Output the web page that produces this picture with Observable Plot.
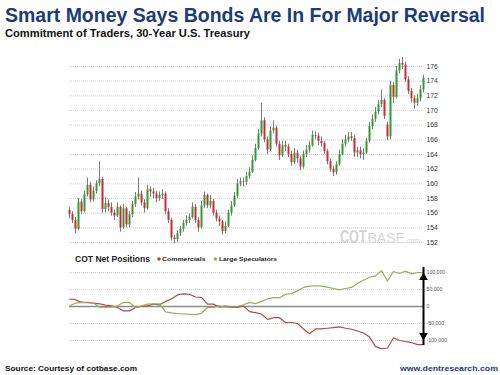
<!DOCTYPE html>
<html><head><meta charset="utf-8">
<script src="https://cdn.jsdelivr.net/npm/d3@7"></script>
<script src="https://cdn.jsdelivr.net/npm/@observablehq/plot@0.6"></script>
<style>
html,body{margin:0;padding:0;background:#fff;}
#root{position:relative;width:500px;height:375px;overflow:hidden;font-family:"Liberation Sans",Arial,sans-serif;}
#price{position:absolute;left:0;top:50px;}
#cot{position:absolute;left:0;top:255px;}
#overlay{position:absolute;left:0;top:0;pointer-events:none;}
</style></head>
<body><div id="root"><div id="price"></div><div id="cot"></div></div>
<script>
// ---- texts ----
const titleText = "Smart Money Says Bonds Are In For Major Reversal";
const subtitleText = "Commitment of Traders, 30-Year U.S. Treasury";
const sourceText = "Source: Courtesy of cotbase.com";
const siteText = "www.dentresearch.com";
const cotTitle = "COT Net Positions";
const seriesNames = ["Commercials", "Large Speculators"];
const watermark = ["COT", "BASE", ".com"];

// ---- price candles (weekly, 30-Year U.S. Treasury futures) ----
const open = [156.4,155.8,155.0,153.8,157.5,156.2,158.5,159.8,157.8,159.0,
160.0,160.6,156.5,157.3,156.8,156.0,155.6,156.8,154.0,156.6,
154.4,155.8,157.2,158.2,158.6,157.4,156.6,159.2,158.9,158.6,
158.0,158.4,158.6,156.2,155.0,152.6,152.4,153.2,153.8,154.6,
155.0,155.4,156.8,155.0,154.0,157.0,158.4,157.0,157.6,156.0,
155.2,154.8,153.5,154.2,156.0,157.0,158.3,160.0,160.3,160.2,
161.0,161.6,163.2,164.8,166.8,168.6,166.0,164.6,167.2,167.6,
165.4,163.8,165.2,165.0,164.0,162.9,164.2,163.4,162.3,164.0,
164.6,165.2,166.6,166.5,165.8,165.5,164.4,163.0,162.0,161.5,
162.6,164.0,165.4,166.0,166.4,166.2,164.2,164.5,164.0,164.2,
165.8,167.8,168.8,169.8,170.8,171.4,168.0,166.4,173.4,171.8,
175.4,176.4,176.2,174.2,172.6,171.6,171.0,171.6,172.8];
const close = [155.8,155.0,153.8,157.5,156.2,158.5,159.8,157.8,159.0,160.0,
160.6,156.5,157.3,156.8,156.0,155.6,156.8,154.0,156.6,154.4,
155.8,157.2,158.2,158.6,157.4,156.6,159.2,158.9,158.6,158.0,
158.4,158.6,156.2,155.0,152.6,152.4,153.2,153.8,154.6,155.0,
155.4,156.8,155.0,154.0,157.0,158.4,157.0,157.6,156.0,155.2,
154.8,153.5,154.2,156.0,157.0,158.3,160.0,160.3,160.2,161.0,
161.6,163.2,164.8,166.8,168.6,166.0,164.6,167.2,167.6,165.4,
163.8,165.2,165.0,164.0,162.9,164.2,163.4,162.3,164.0,164.6,
165.2,166.6,166.5,165.8,165.5,164.4,163.0,162.0,161.5,162.6,
164.0,165.4,166.0,166.4,166.2,164.2,164.5,164.0,164.2,165.8,
167.8,168.8,169.8,170.8,171.4,169.2,166.4,173.4,171.8,175.4,
176.4,176.2,174.2,172.6,171.6,171.0,171.6,172.8,174.4];
const high = [156.8,156.2,155.4,158.0,157.9,159.0,160.8,160.2,159.6,160.4,
163.0,160.9,158.2,157.8,157.4,156.4,157.4,157.0,157.2,156.8,
156.2,157.6,158.8,160.8,159.0,157.8,159.8,159.6,159.4,159.0,
158.9,159.2,158.9,156.6,155.3,153.0,153.6,154.2,155.0,155.6,
155.9,157.4,157.2,155.4,157.6,158.9,158.6,158.4,157.9,156.4,
155.6,155.0,154.8,156.4,157.6,158.8,160.6,160.8,160.8,161.6,
162.2,163.8,165.4,167.4,171.0,169.0,166.4,167.8,168.6,167.9,
165.8,165.8,165.8,165.4,164.4,164.8,164.6,163.8,164.5,165.2,
165.8,167.2,167.1,166.9,166.4,165.8,164.7,163.4,162.4,163.0,
164.6,166.0,166.6,167.0,167.0,166.6,165.0,165.0,164.8,166.2,
168.4,169.4,170.4,171.4,172.8,171.6,168.4,174.0,173.8,176.0,
177.0,177.2,176.6,174.6,173.0,172.0,172.2,173.4,174.8];
const low = [155.2,154.6,153.2,153.6,155.8,156.0,158.2,157.4,157.5,158.6,
159.6,156.0,156.0,156.2,155.6,155.0,155.4,153.4,153.8,154.0,
154.0,155.4,156.8,157.8,157.0,156.0,156.4,158.2,158.0,157.4,
157.6,157.9,155.8,154.6,152.2,151.8,152.0,152.8,153.4,154.2,
154.6,155.2,154.6,153.4,153.8,156.6,156.6,156.6,155.6,154.8,
154.2,153.0,153.2,154.0,155.6,156.8,158.0,159.6,159.6,159.8,
160.6,161.4,163.0,164.6,166.4,165.6,164.0,164.4,166.8,165.0,
163.2,163.6,164.4,163.6,162.4,162.6,162.8,161.8,162.0,163.6,
164.2,165.0,166.0,165.2,165.0,164.0,162.6,161.6,161.0,161.2,
162.4,163.8,165.0,165.6,165.8,163.6,163.6,163.4,163.2,164.0,
165.6,167.4,168.4,169.4,170.4,168.8,165.9,166.0,171.0,171.6,
175.0,175.6,173.8,172.2,171.0,170.2,170.6,171.2,172.4];
const priceTicks = [152,154,156,158,160,162,164,166,168,170,172,174,176];

// ---- COT net positions (every second week) ----
const commercials = [22000,20000,12000,12000,10000,8000,4000,2000,-3000,-13000,
-13000,-3000,0,2000,7000,5000,15000,22000,34000,37000,
36000,28000,27000,7000,7000,-2000,1000,-3000,-3000,2000,
-15000,-18000,-22000,-38000,-33000,-33000,-47000,-47000,-50000,-66000,
-80000,-66000,-66000,-64000,-62000,-60000,-64000,-67000,-72000,-78000,
-90000,-118000,-124000,-122000,-92000,-100000,-103000,-106000,-112000,-112000];
const speculators = [2000,10000,12000,11000,10000,-2000,-3000,-2000,2000,12000,
12000,-3000,2000,7000,8000,8000,-16000,-19000,-21000,-22000,
-23000,-24000,-20000,-3000,-3000,2000,-2000,-2000,0,5000,
12000,8000,15000,22000,26000,26000,36000,38000,46000,56000,
60000,61000,60000,57000,53000,49000,53000,56000,68000,77000,
86000,90000,105000,75000,103000,97000,104000,96000,100000,100000];
const cotTicks = [100000,50000,0,-50000,-100000];
const cotTickLabels = ["100,000","50,000","0","-50,000","-100,000"];
const spreadArrow = [-100000, 100000];

// ---- colours ----
const upColor = "#2f9a33", downColor = "#d0282c", wickColor = "#7c7c7c";
const commColor = "#b8474b", specColor = "#92b05a", navy = "#1b3c78";

const weeks = open.map((_, i) => i);
const candles = weeks.map(i => ({week: i, open: open[i], close: close[i], high: high[i], low: low[i]}));
const cotWeeks = commercials.map((_, i) => weeks[i * 2]);
const cotData = cotWeeks.map((w, i) => ({week: w, comm: commercials[i], spec: speculators[i]}));
const lastWeek = weeks[weeks.length - 1];
const xDomain = [weeks[0], lastWeek];
const font = "Liberation Sans, Arial, sans-serif";

const pricePlot = Plot.plot({
  width: 500, height: 200,
  marginLeft: 69, marginRight: 77, marginTop: 16, marginBottom: 8,
  style: {background: "transparent", fontFamily: font, overflow: "visible"},
  x: {domain: xDomain, axis: null},
  y: {domain: [priceTicks[0], priceTicks[priceTicks.length - 1]], axis: null},
  marks: [
    Plot.gridY({ticks: priceTicks, stroke: "#cfcfcf", strokeOpacity: 1, strokeDasharray: "1,1"}),
    Plot.axisY({ticks: priceTicks, anchor: "right", tickSize: 0, tickPadding: 3, fontSize: 6.8, fill: "#333"}),
    Plot.ruleX(candles, {x: "week", y1: "low", y2: "high", stroke: wickColor, strokeWidth: 1}),
    Plot.ruleX(candles.filter(d => d.close >= d.open), {x: "week", y1: "open", y2: "close", stroke: upColor, strokeWidth: 2}),
    Plot.ruleX(candles.filter(d => d.close < d.open), {x: "week", y1: "open", y2: "close", stroke: downColor, strokeWidth: 2})
  ]
});
document.getElementById("price").appendChild(pricePlot);

const cotPlot = Plot.plot({
  width: 500, height: 100,
  marginLeft: 69, marginRight: 77, marginTop: 17, marginBottom: 15,
  style: {background: "transparent", fontFamily: font, overflow: "visible"},
  x: {domain: xDomain, axis: null},
  y: {domain: [cotTicks[cotTicks.length - 1], cotTicks[0]], axis: null},
  marks: [
    Plot.gridY({ticks: cotTicks.filter(d => d !== 0), stroke: "#cfcfcf", strokeOpacity: 1, strokeDasharray: "1,1"}),
    Plot.ruleY([0], {stroke: "#8c8c8c", strokeWidth: 1.4}),
    Plot.axisY({ticks: cotTicks, anchor: "right", tickSize: 0, tickPadding: 3, fontSize: 5.2, fill: "#555",
      tickFormat: d => cotTickLabels[cotTicks.indexOf(d)]}),
    Plot.lineY(cotData, {x: "week", y: "comm", stroke: commColor, strokeWidth: 1.2}),
    Plot.lineY(cotData, {x: "week", y: "spec", stroke: specColor, strokeWidth: 1.2}),
    Plot.ruleX([lastWeek], {y1: spreadArrow[0], y2: spreadArrow[1], stroke: "#000", strokeWidth: 2, insetTop: 5, insetBottom: 5}),
    Plot.dot([spreadArrow[1]], {x: () => lastWeek, y: d => d, symbol: "triangle", r: 3.2, fill: "#000", stroke: "none", dy: 5}),
    Plot.dot([spreadArrow[0]], {x: () => lastWeek, y: d => d, symbol: "triangle", r: 3.2, fill: "#000", stroke: "none", dy: -5, rotate: 180})
  ]
});
document.getElementById("cot").appendChild(cotPlot);

// ---- text overlay (title, subtitle, legend, watermark, captions) ----
const svg = d3.select("#root").append("svg").attr("id", "overlay").attr("width", 500).attr("height", 375)
  .style("font-family", font);
function txt(s, x, y, size, weight, fill, len, anchor) {
  const t = svg.append("text").attr("x", x).attr("y", y).attr("font-size", size)
    .attr("font-weight", weight).attr("fill", fill).text(s);
  if (len) t.attr("textLength", len).attr("lengthAdjust", "spacingAndGlyphs");
  if (anchor) t.attr("text-anchor", anchor);
  return t;
}
txt(titleText, 5, 21.7, 19.5, "bold", navy, 480);
txt(subtitleText, 5, 36.7, 10.5, "bold", "#111", 245);
// watermark (natural widths so the pieces do not overlap)
svg.append("text").attr("transform", "translate(340,243) scale(1,1.5)")
  .attr("font-size", 12.6).attr("font-weight", "bold").attr("fill", "#d2d2d2").text(watermark[0]);
txt(watermark[1], 367.5, 243, 14, "normal", "#d6d6d6");
txt(watermark[2], 405.5, 243, 6.5, "normal", "#d6d6d6");
// COT legend
txt(cotTitle, 75, 262, 8.5, "bold", "#222", 75);
svg.append("circle").attr("cx", 159).attr("cy", 259).attr("r", 1.8).attr("fill", commColor);
txt(seriesNames[0], 162, 261.3, 6, "bold", "#222", 43.5);
svg.append("circle").attr("cx", 215.5).attr("cy", 259).attr("r", 1.8).attr("fill", specColor);
txt(seriesNames[1], 219, 261.3, 6, "bold", "#222", 58);
// captions
txt(sourceText, 5, 370.5, 8, "bold", "#111", 132);
txt(siteText, 498, 370.5, 8, "bold", navy, 98, "end");
</script>
</body></html>
